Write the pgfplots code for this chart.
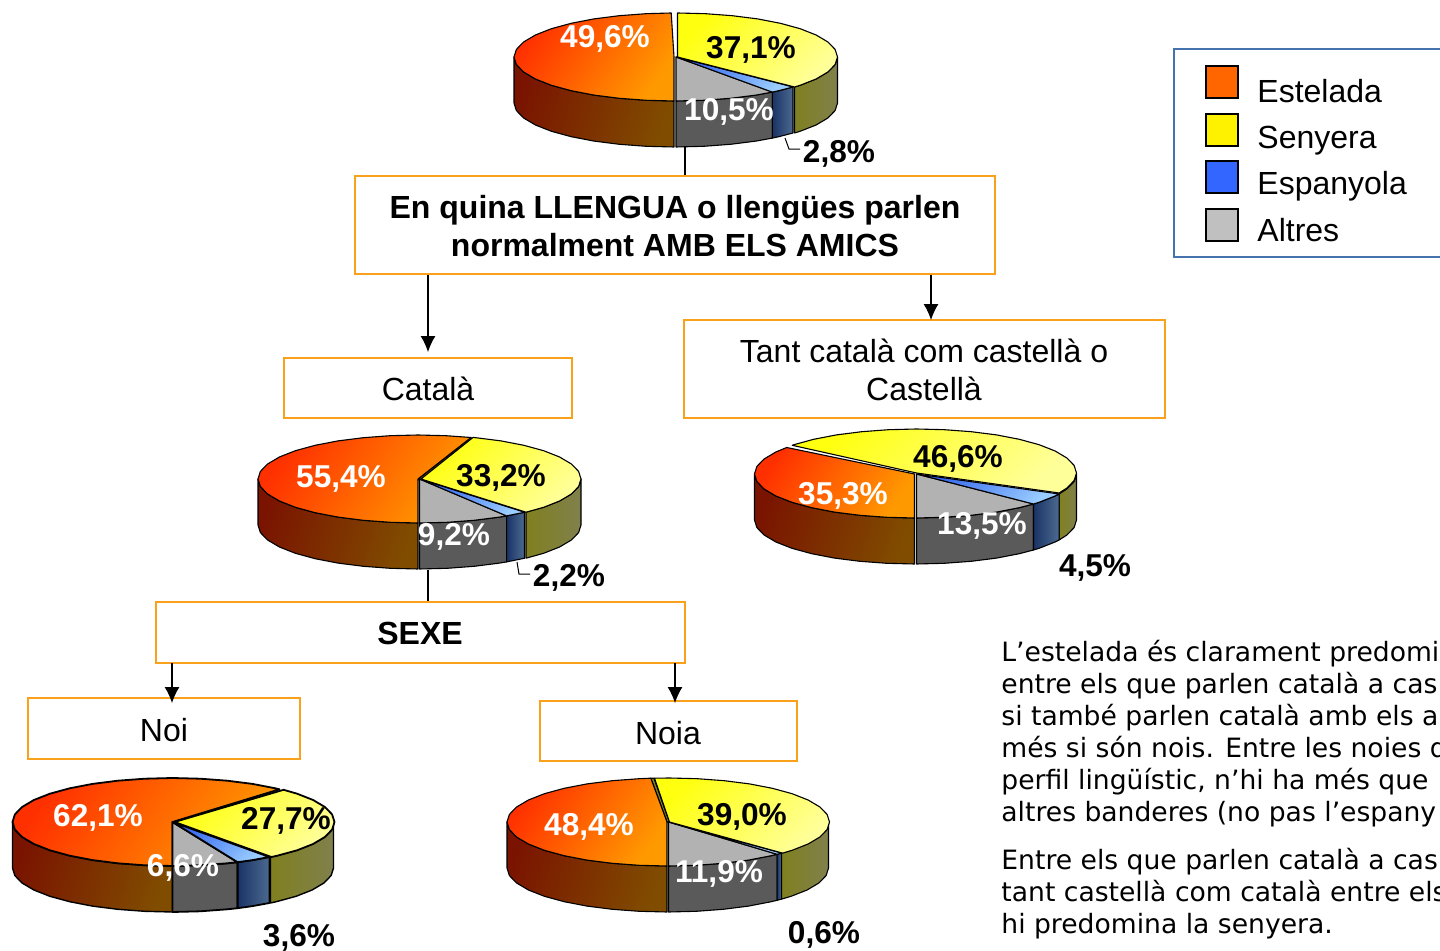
\documentclass[border=0pt]{standalone}
\usepackage{fontspec}
\setmainfont{Liberation Sans}
\newfontfamily\verd{DejaVu Sans}
\usepackage{pgfplots}
\usepackage{pgfplotstable}
\pgfplotsset{compat=1.18}
\usetikzlibrary{arrows.meta}
\definecolor{boxor}{HTML}{F9A11B}
\definecolor{legbl}{HTML}{4473AE}
\definecolor{oT}{HTML}{FF3000}\definecolor{oB}{HTML}{FF9900}
\definecolor{oSL}{HTML}{7A1400}\definecolor{oSR}{HTML}{804C00}
\definecolor{yT}{HTML}{FFFF10}\definecolor{yB}{HTML}{FFFF99}
\definecolor{ySL}{HTML}{808020}\definecolor{ySR}{HTML}{80804C}
\definecolor{bT}{HTML}{3366EE}\definecolor{bB}{HTML}{99CCFF}
\definecolor{bSL}{HTML}{1A3366}\definecolor{bSR}{HTML}{4C6A90}
\definecolor{gT}{HTML}{B2B2B2}\definecolor{gS}{HTML}{5A5A5A}
\pgfplotstableread{
x y
-160 0
-157.6 -7.6
-150.4 -15
-138.6 -22
-122.6 -28.3
-102.8 -33.7
-80 -38.1
-54.7 -41.3
-27.8 -43.3
0 -44
0 -90
-27.8 -89.3
-54.7 -87.3
-80 -84.1
-102.8 -79.7
-122.6 -74.3
-138.6 -68
-150.4 -61
-157.6 -53.6
-160 -46
}\orangeside
\tikzset{
 edge/.style={draw=black,line width=0.55pt,line join=round},
 otop/.style={edge,bottom color=oB,top color=oT,shading angle=55},
 oside/.style={edge,bottom color=oSR,top color=oSL,shading angle=72},
 ytop/.style={edge,bottom color=yB,top color=yT,shading angle=45},
 yside/.style={edge,left color=ySL,right color=ySR},
 btop/.style={edge,bottom color=bB,top color=bT,shading angle=45},
 bside/.style={edge,left color=bSL,right color=bSR},
 gtop/.style={edge,fill=gT},
 gside/.style={edge,fill=gS},
}
\pgfplotsset{pie/.style n args={2}{x=0.5pt,y=0.5pt,xmin=-180,xmax=180,ymin=-100,ymax=60,
  hide axis,clip=false,anchor=south west,
  at={({0.5pt*(#1-180)},{-0.5pt*(#2+100)})}}}
\newcommand{\lab}[3]{\node[text=#1,yshift=-1.4pt,font=\fontsize{15.8}{19}\selectfont\bfseries] at (axis cs:#2) {#3};}
\begin{document}
\begin{tikzpicture}
\useasboundingbox (0,0) rectangle (720pt,-475.5pt);
\clip (0,0) rectangle (720pt,-475.5pt);
% Pie 1
\begin{axis}[pie={676}{57}]
\addplot[oside,xshift=-1pt] table {\orangeside} --cycle;
\addplot[gside] coordinates {(0,-44)(27.8,-43.3)(54.7,-41.3)(80,-38.1)(96.3,-35.1)(96.3,-81.1)(80,-84.1)(54.7,-87.3)(27.8,-89.3)(0,-90)} --cycle;
\addplot[bside] coordinates {(96.3,-35.1)(102.8,-33.7)(117,-30)(117,-76)(102.8,-79.7)(96.3,-81.1)} --cycle;
\addplot[yside,xshift=.75pt] coordinates {(117,-30)(122.6,-28.3)(138.6,-22)(150.4,-15)(157.6,-7.6)(160,0)(160,-46)(157.6,-53.6)(150.4,-61)(138.6,-68)(122.6,-74.3)(117,-76)} --cycle;
\addplot[otop,xshift=-1pt] coordinates {(0,0)(-2.8,44)(-27.8,43.3)(-54.7,41.3)(-80,38.1)(-102.8,33.7)(-122.6,28.3)(-138.6,22)(-150.4,15)(-157.6,7.6)(-160,0)(-157.6,-7.6)(-150.4,-15)(-138.6,-22)(-122.6,-28.3)(-102.8,-33.7)(-80,-38.1)(-54.7,-41.3)(-27.8,-43.3)(0,-44)} --cycle;
\addplot[gtop] coordinates {(0,0)(96.3,-35.1)(80,-38.1)(54.7,-41.3)(27.8,-43.3)(0,-44)} --cycle;
\addplot[btop] coordinates {(0,0)(117,-30)(102.8,-33.7)(96.3,-35.1)} --cycle;
\addplot[ytop,xshift=.75pt] coordinates {(0,0)(0,44)(27.8,43.3)(54.7,41.3)(80,38.1)(102.8,33.7)(122.6,28.3)(138.6,22)(150.4,15)(157.6,7.6)(160,0)(157.6,-7.6)(150.4,-15)(138.6,-22)(122.6,-28.3)(117,-30)} --cycle;
\end{axis}
% Pie 2
\begin{axis}[pie={419.5}{479}]
\addplot[oside,xshift=-.75pt] table {\orangeside} --cycle;
\addplot[gside] coordinates {(0,-44)(27.8,-43.3)(54.7,-41.3)(80,-38.1)(87.1,-36.9)(87.1,-82.9)(80,-84.1)(54.7,-87.3)(27.8,-89.3)(0,-90)} --cycle;
\addplot[bside] coordinates {(87.1,-36.9)(102.8,-33.7)(105,-33.2)(105,-79.2)(102.8,-79.7)(87.1,-82.9)} --cycle;
\addplot[yside,xshift=.75pt] coordinates {(105,-33.2)(122.6,-28.3)(138.6,-22)(150.4,-15)(157.6,-7.6)(160,0)(160,-46)(157.6,-53.6)(150.4,-61)(138.6,-68)(122.6,-74.3)(105,-79.2)} --cycle;
\addplot[edge,fill=oSR!90!oSL,xshift=-.75pt] coordinates {(0,0)(53,41.5)(54.5,38.5)(3,-3)} --cycle;
\addplot[otop,xshift=-.75pt] coordinates {(0,0)(53,41.5)(27.8,43.3)(0,44)(-27.8,43.3)(-54.7,41.3)(-80,38.1)(-102.8,33.7)(-122.6,28.3)(-138.6,22)(-150.4,15)(-157.6,7.6)(-160,0)(-157.6,-7.6)(-150.4,-15)(-138.6,-22)(-122.6,-28.3)(-102.8,-33.7)(-80,-38.1)(-54.7,-41.3)(-27.8,-43.3)(0,-44)} --cycle;
\addplot[gtop] coordinates {(0,0)(87.1,-36.9)(80,-38.1)(54.7,-41.3)(27.8,-43.3)(0,-44)} --cycle;
\addplot[btop] coordinates {(0,0)(105,-33.2)(102.8,-33.7)(87.1,-36.9)} --cycle;
\addplot[ytop,xshift=.75pt] coordinates {(0,0)(52.1,41.6)(54.7,41.3)(80,38.1)(102.8,33.7)(122.6,28.3)(138.6,22)(150.4,15)(157.6,7.6)(160,0)(157.6,-7.6)(150.4,-15)(138.6,-22)(122.6,-28.3)(105,-33.2)} --cycle;
\end{axis}
% Pie 3
\begin{axis}[pie={916.5}{474}]
\addplot[oside,xshift=-1pt] table {\orangeside} --cycle;
\addplot[gside] coordinates {(0,-44)(27.8,-43.3)(54.7,-41.3)(80,-38.1)(102.8,-33.7)(117,-30)(117,-76)(102.8,-79.7)(80,-84.1)(54.7,-87.3)(27.8,-89.3)(0,-90)} --cycle;
\addplot[yside] coordinates {(142.6,-20)(150.4,-15)(157.6,-7.6)(160,0)(160,-46)(157.6,-53.6)(150.4,-61)(142.6,-66)} --cycle;
\addplot[bside] coordinates {(117,-30)(122.6,-28.3)(138.6,-22)(142.6,-20)(142.6,-66)(138.6,-68)(122.6,-74.3)(117,-76)} --cycle;
\addplot[otop,xshift=-1pt] coordinates {(0,0)(-127.8,26.5)(-138.6,22)(-150.4,15)(-157.6,7.6)(-160,0)(-157.6,-7.6)(-150.4,-15)(-138.6,-22)(-122.6,-28.3)(-102.8,-33.7)(-80,-38.1)(-54.7,-41.3)(-27.8,-43.3)(0,-44)} --cycle;
\addplot[gtop] coordinates {(0,0)(117,-30)(102.8,-33.7)(80,-38.1)(54.7,-41.3)(27.8,-43.3)(0,-44)} --cycle;
\addplot[btop] coordinates {(0,0)(142.6,-20)(138.6,-22)(122.6,-28.3)(117,-30)} --cycle;
\addplot[ytop,yshift=.5pt] coordinates {(0,0)(-124.3,27.7)(-122.6,28.3)(-102.8,33.7)(-80,38.1)(-54.7,41.3)(-27.8,43.3)(0,44)(27.8,43.3)(54.7,41.3)(80,38.1)(102.8,33.7)(122.6,28.3)(138.6,22)(150.4,15)(157.6,7.6)(160,0)(157.6,-7.6)(150.4,-15)(142.6,-20)} --cycle;
\end{axis}
% Pie 4
\begin{axis}[pie={172.5}{822}]
\addplot[oside,line width=.7pt] table {\orangeside} --cycle;
\addplot[gside,line width=.9pt] coordinates {(0,-44)(27.8,-43.3)(54.7,-41.3)(65.1,-40.2)(65.1,-86.2)(54.7,-87.3)(27.8,-89.3)(0,-90)} --cycle;
\addplot[bside,line width=.9pt] coordinates {(65.1,-40.2)(80,-38.1)(96.9,-35)(96.9,-81)(80,-84.1)(65.1,-86.2)} --cycle;
\addplot[yside,line width=.7pt,xshift=.5pt] coordinates {(96.9,-35)(102.8,-33.7)(122.6,-28.3)(138.6,-22)(150.4,-15)(157.6,-7.6)(160,0)(160,-46)(157.6,-53.6)(150.4,-61)(138.6,-68)(122.6,-74.3)(102.8,-79.7)(96.9,-81)} --cycle;
\addplot[otop,line width=.9pt] coordinates {(0,0)(107,32.7)(102.8,33.7)(80,38.1)(54.7,41.3)(27.8,43.3)(0,44)(-27.8,43.3)(-54.7,41.3)(-80,38.1)(-102.8,33.7)(-122.6,28.3)(-138.6,22)(-150.4,15)(-157.6,7.6)(-160,0)(-157.6,-7.6)(-150.4,-15)(-138.6,-22)(-122.6,-28.3)(-102.8,-33.7)(-80,-38.1)(-54.7,-41.3)(-27.8,-43.3)(0,-44)} --cycle;
\addplot[gtop,line width=.9pt] coordinates {(0,0)(65.1,-40.2)(54.7,-41.3)(27.8,-43.3)(0,-44)} --cycle;
\addplot[btop,line width=.9pt] coordinates {(0,0)(96.9,-35)(80,-38.1)(65.1,-40.2)} --cycle;
\addplot[ytop,line width=.9pt,xshift=1pt] coordinates {(0,0)(109.1,32.2)(122.6,28.3)(138.6,22)(150.4,15)(157.6,7.6)(160,0)(157.6,-7.6)(150.4,-15)(138.6,-22)(122.6,-28.3)(102.8,-33.7)(96.9,-35)} --cycle;
\end{axis}
% Pie 5
\begin{axis}[pie={668.5}{822}]
\addplot[oside,xshift=-.75pt] table {\orangeside} --cycle;
\addplot[gside] coordinates {(0,-44)(27.8,-43.3)(54.7,-41.3)(80,-38.1)(102.8,-33.7)(108.6,-32.3)(108.6,-78.3)(102.8,-79.7)(80,-84.1)(54.7,-87.3)(27.8,-89.3)(0,-90)} --cycle;
\addplot[bside] coordinates {(108.6,-32.3)(113.1,-31.1)(113.1,-77.1)(108.6,-78.3)} --cycle;
\addplot[yside] coordinates {(113.1,-31.1)(122.6,-28.3)(138.6,-22)(150.4,-15)(157.6,-7.6)(160,0)(160,-46)(157.6,-53.6)(150.4,-61)(138.6,-68)(122.6,-74.3)(113.1,-77.1)} --cycle;
\addplot[edge,fill=ySL,xshift=-.75pt] coordinates {(0,0)(-16.2,43.8)(-13,43.8)(3,-2)} --cycle;
\addplot[otop,xshift=-.75pt] coordinates {(0,0)(-16.2,43.8)(-27.8,43.3)(-54.7,41.3)(-80,38.1)(-102.8,33.7)(-122.6,28.3)(-138.6,22)(-150.4,15)(-157.6,7.6)(-160,0)(-157.6,-7.6)(-150.4,-15)(-138.6,-22)(-122.6,-28.3)(-102.8,-33.7)(-80,-38.1)(-54.7,-41.3)(-27.8,-43.3)(0,-44)} --cycle;
\addplot[gtop] coordinates {(0,0)(108.6,-32.3)(102.8,-33.7)(80,-38.1)(54.7,-41.3)(27.8,-43.3)(0,-44)} --cycle;
\addplot[btop] coordinates {(0,0)(113.1,-31.1)(108.6,-32.3)} --cycle;
\addplot[ytop,xshift=.5pt] coordinates {(0,0)(-15,43.8)(0,44)(27.8,43.3)(54.7,41.3)(80,38.1)(102.8,33.7)(122.6,28.3)(138.6,22)(150.4,15)(157.6,7.6)(160,0)(157.6,-7.6)(150.4,-15)(138.6,-22)(122.6,-28.3)(113.1,-31.1)} --cycle;
\end{axis}
% Boxes, text, labels
\begin{axis}[x=0.5pt,y=0.5pt,xmin=0,xmax=1440,ymin=0,ymax=951,y dir=reverse,hide axis,clip=false,
  anchor=north west,at={(0,0)}]
\tikzset{bx/.style={draw=boxor,line width=1pt,fill=white},
  ar/.style={line width=.6pt,-{Latex[length=8pt,width=7.5pt]}},
  big/.style={anchor=base,inner sep=0pt,font=\fontsize{16}{19}\selectfont},
  bigb/.style={anchor=base,inner sep=0pt,font=\fontsize{16}{19}\selectfont\bfseries},
  lg/.style={anchor=base west,inner sep=0pt,font=\fontsize{16}{19}\selectfont},
  leg/.style={draw=black,line width=.8pt}}
\draw[line width=.6pt] (axis cs:685,147)--(axis cs:685,176);
\draw[line width=.6pt] (axis cs:428,570)--(axis cs:428,602);
\draw[line width=.5pt] (axis cs:785,138)--(axis cs:789,149)--(axis cs:800,149);
\draw[line width=.5pt] (axis cs:517,562)--(axis cs:519,574)--(axis cs:530,574);
\draw[bx] (axis cs:355,176) rectangle (axis cs:995,274);
\draw[bx] (axis cs:284,358) rectangle (axis cs:572,418);
\draw[bx] (axis cs:684,320) rectangle (axis cs:1165,418);
\draw[bx] (axis cs:156,602) rectangle (axis cs:685,663);
\draw[bx] (axis cs:28,698) rectangle (axis cs:300,759);
\draw[bx] (axis cs:540,701) rectangle (axis cs:797,761);
\draw[ar] (axis cs:428,275)--(axis cs:428,352);
\draw[ar] (axis cs:931,275)--(axis cs:931,320);
\draw[ar] (axis cs:172,663)--(axis cs:172,703);
\draw[ar] (axis cs:675,663)--(axis cs:675,703);
\node[bigb] at (axis cs:675,218.5) {En quina LLENGUA o llengües parlen};
\node[bigb] at (axis cs:675,256.5) {normalment AMB ELS AMICS};
\node[big] at (axis cs:428,400) {Català};
\node[big] at (axis cs:924,362.5) {Tant català com castellà o};
\node[big] at (axis cs:924,400) {Castellà};
\node[bigb] at (axis cs:420,644.5) {SEXE};
\node[big] at (axis cs:164,741.5) {Noi};
\node[big] at (axis cs:668,744.5) {Noia};
% legend
\draw[draw=legbl,line width=1pt,fill=white] (axis cs:1174,49) rectangle (axis cs:1460,257);
\draw[leg,fill={rgb,255:red,255;green,102;blue,0}] (axis cs:1206,66) rectangle (axis cs:1238,98);
\draw[leg,fill=yellow] (axis cs:1206,114) rectangle (axis cs:1238,146);
\draw[leg,fill={rgb,255:red,51;green,102;blue,255}] (axis cs:1206,161) rectangle (axis cs:1238,193);
\draw[leg,fill={rgb,255:red,192;green,192;blue,192}] (axis cs:1206,209) rectangle (axis cs:1238,241);
\node[lg] at (axis cs:1257,102) {Estelada};
\node[lg] at (axis cs:1257,148) {Senyera};
\node[lg] at (axis cs:1257,194) {Espanyola};
\node[lg] at (axis cs:1257,241) {Altres};
% data labels
\lab{white}{605,36}{49,6\%}\lab{black}{751,47}{37,1\%}\lab{white}{729,109}{10,5\%}\lab{black}{839,151}{2,8\%}
\lab{white}{341,476}{55,4\%}\lab{black}{501,475}{33,2\%}\lab{white}{454,534}{9,2\%}\lab{black}{569,575}{2,2\%}
\lab{black}{958,456}{46,6\%}\lab{white}{843,493}{35,3\%}\lab{white}{982,523}{13,5\%}\lab{black}{1095,565}{4,5\%}
\lab{white}{98,815}{62,1\%}\lab{black}{286,818}{27,7\%}\lab{white}{183,865}{6,6\%}\lab{black}{299,935}{3,6\%}
\lab{white}{589,824}{48,4\%}\lab{black}{742,814}{39,0\%}\lab{white}{719,871}{11,9\%}\lab{black}{824,932}{0,6\%}
% paragraph
\tikzset{para/.style={anchor=base west,inner sep=0pt,font=\verd\fontsize{13.3}{16}\selectfont}}
\node[para] at (axis cs:1001,661) {L’estelada és clarament predomi};
\node[para] at (axis cs:1001,693) {entre els que parlen català a cas};
\node[para] at (axis cs:1001,725) {si també parlen català amb els a};
\node[para] at (axis cs:1001,757) {més si són nois. Entre les noies d};
\node[para] at (axis cs:1001,789) {perfil lingüístic, n’hi ha més que};
\node[para] at (axis cs:1001,821) {altres banderes (no pas l’espany};
\node[para] at (axis cs:1001,869) {Entre els que parlen català a cas};
\node[para] at (axis cs:1001,901) {tant castellà com català entre els};
\node[para] at (axis cs:1001,933) {hi predomina la senyera.};
\end{axis}
\end{tikzpicture}
\end{document}
